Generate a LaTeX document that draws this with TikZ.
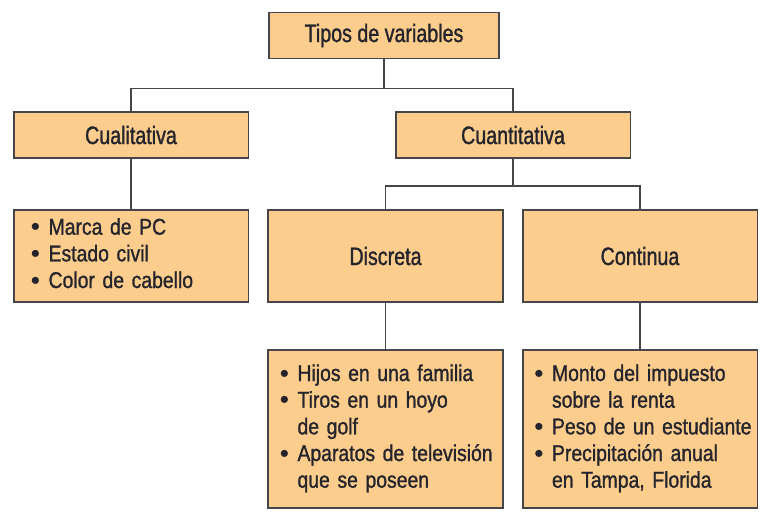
\documentclass[tikz,border=0pt]{standalone}
\usepackage{fontspec}
\usepackage{graphicx}
\setmainfont{Liberation Sans}[FakeStretch=0.78,FakeBold=1.2]
\newfontfamily\listfont{Liberation Sans}[FakeStretch=0.85,FakeBold=1.2]
\usetikzlibrary{positioning}

\definecolor{boxfill}{HTML}{FDCD8D}
\definecolor{boxline}{HTML}{45454A}
\definecolor{ink}{HTML}{24242C}
\newcommand{\bul}{\raisebox{2.2pt}{\scalebox{0.8}{$\bullet$}}}

\begin{document}
\begin{tikzpicture}[x=0.75pt,y=-0.75pt,line width=1.25pt,color=boxline,
    box/.style={draw=boxline,fill=boxfill,text=ink,inner sep=0pt,minimum width=176pt},
    head/.style={box,minimum height=34.5pt,font=\fontsize{18.9}{22}\selectfont},
    kind/.style={box,minimum height=69pt,font=\fontsize{18.9}{22}\selectfont},
    items/.style={box,align=left,font=\listfont\fontsize{17.1}{20}\selectfont}]
  \useasboundingbox (0,0) rectangle (770,514);

  \node[head,minimum width=172.5pt] (tipos) at (384,35.5) {Tipos de variables};
  \node[head]  (cual) at (131,135)   {Cualitativa};
  \node[head]  (cuan) at (513,135)   {Cuantitativa};
  \node[kind]  (disc) at (385.5,256) {Discreta};
  \node[kind]  (cont) at (640,256)   {Continua};

  \node[items,minimum height=69pt,inner xsep=13pt,text width=150pt] (cuallist) at (131,256)
    {\begin{tabular}{@{}l@{\hspace{6.3pt}}l@{}}
      \bul & Marca de PC\\
      \bul & Estado civil\\
      \bul & Color de cabello
     \end{tabular}};
  \node[items,minimum height=118.5pt,inner xsep=8.8pt,text width=158.4pt] (disclist) at (385.5,429)
    {\begin{tabular}{@{}l@{\hspace{6.3pt}}l@{}}
      \bul & Hijos en una familia\\
      \bul & Tiros en un hoyo\\
           & de golf\\
      \bul & Aparatos de televisión\\
           & que se poseen
     \end{tabular}};
  \node[items,minimum height=118.5pt,inner xsep=8.8pt,text width=158.4pt] (contlist) at (640,429)
    {\begin{tabular}{@{}l@{\hspace{6.3pt}}l@{}}
      \bul & Monto del impuesto\\
           & sobre la renta\\
      \bul & Peso de un estudiante\\
      \bul & Precipitación anual\\
           & en Tampa, Florida
     \end{tabular}};

  % connectors
  \draw (tipos.south) -- ++(0,29) coordinate (bus1);
  \draw (cual.north) |- (bus1) -| (cuan.north);
  \draw (cuan.south) -- ++(0,27) coordinate (bus2);
  \draw (disc.north) |- (bus2) -| (cont.north);
  \draw (cual) -- (cuallist)
        (disc) -- (disclist)
        (cont) -- (contlist);
\end{tikzpicture}
\end{document}
